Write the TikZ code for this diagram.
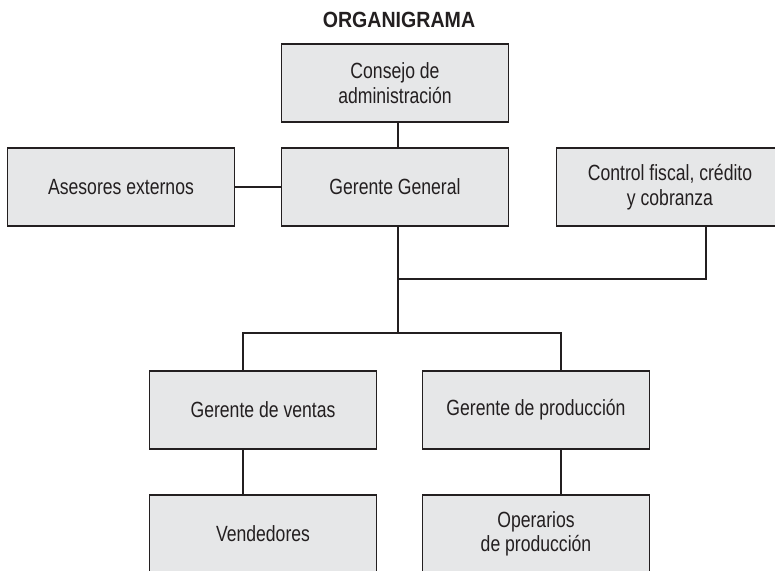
\documentclass[tikz,border=0pt]{standalone}
\usepackage{fontspec}
\setmainfont[FakeStretch=0.8]{Liberation Sans}
\newfontfamily\titlefont[FakeStretch=0.89]{Liberation Sans}
\usepackage{xcolor}
\definecolor{boxgray}{HTML}{E6E7E8}
\definecolor{inkgray}{HTML}{231F20}

\begin{document}
\begin{tikzpicture}[x=1pt,y=-1pt,
    puesto/.style={draw=inkgray, fill=boxgray, line width=1.7pt,
        minimum width=227pt, minimum height=78pt, inner sep=0pt,
        align=center, text=inkgray, font=\fontsize{22}{24.5}\selectfont},
    linea/.style={draw=inkgray, line width=1.7pt}]
            \clip (0,0) rectangle (775,570);

            \node[font=\titlefont\bfseries\fontsize{22}{24}\selectfont, text=inkgray] at (399,20) (titulo) {ORGANIGRAMA};

            \node[puesto] at (395,83) (consejo) {Consejo de\\administración};
            \node[puesto] at (395,187) (gerente) {Gerente General};
            \node[puesto] at (121,187) (asesores) {Asesores externos};
            \node[puesto] at (670,187) (control) {Control fiscal, crédito\\y cobranza};
            \node[puesto] at (263,410) (ventas) {Gerente de ventas};
            \node[puesto] at (536,410) (produccion) {Gerente de producción};
            \node[puesto] at (263,534) (vendedores) {Vendedores};
            \node[puesto] at (536,534) (operarios) {Operarios\\de producción};

            \coordinate (rama) at (398,279);
            \coordinate (bus) at (398,333);

            \draw[linea] ([xshift=3pt]consejo.south) -- ([xshift=3pt]gerente.north);
            \draw[linea] (asesores.east) -- (gerente.west);
            \draw[linea] ([xshift=3pt]gerente.south) -- (bus);
            \draw[linea] (rama) -| ([xshift=36pt]control.south);
            \draw[linea] ([xshift=-20pt]ventas.north) |- (bus) -| ([xshift=25pt]produccion.north);
            \draw[linea] ([xshift=-20pt]ventas.south) -- ([xshift=-20pt]vendedores.north);
            \draw[linea] ([xshift=25pt]produccion.south) -- ([xshift=25pt]operarios.north);
        \end{tikzpicture}
\end{document}
